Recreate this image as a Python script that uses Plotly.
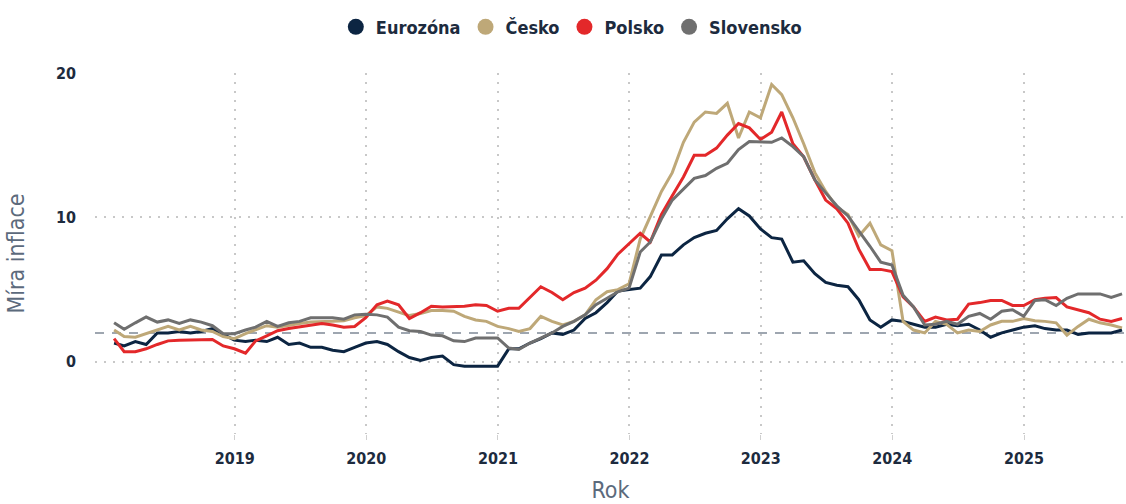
import pandas as pd
import plotly.graph_objects as go

# Monthly observations, Jan 2018 .. Sep 2025 (plotted at month end)
months = pd.date_range("2018-01-01", "2025-09-01", freq="MS") + pd.offsets.MonthEnd(0)

eurozona = [
    1.3, 1.1, 1.4, 1.2, 2.0, 2.0, 2.1, 2.0, 2.1, 2.3, 1.9, 1.5,
    1.4, 1.5, 1.4, 1.7, 1.2, 1.3, 1.0, 1.0, 0.8, 0.7, 1.0, 1.3,
    1.4, 1.2, 0.7, 0.3, 0.1, 0.3, 0.4, -0.2, -0.3, -0.3, -0.3, -0.3,
    0.9, 0.9, 1.3, 1.6, 2.0, 1.9, 2.2, 3.0, 3.4, 4.1, 4.9, 5.0,
    5.1, 5.9, 7.4, 7.4, 8.1, 8.6, 8.9, 9.1, 9.9, 10.6, 10.1, 9.2,
    8.6, 8.5, 6.9, 7.0, 6.1, 5.5, 5.3, 5.2, 4.3, 2.9, 2.4, 2.9,
    2.8, 2.6, 2.4, 2.4, 2.6, 2.5, 2.6, 2.2, 1.7, 2.0, 2.2, 2.4,
    2.5, 2.3, 2.2, 2.2, 1.9, 2.0, 2.0, 2.0, 2.2,
]
cesko = [
    2.2, 1.75, 1.7, 1.95, 2.2, 2.45, 2.2, 2.45, 2.2, 2.1, 1.75, 1.6,
    1.95, 2.2, 2.5, 2.4, 2.55, 2.65, 2.75, 2.75, 2.8, 2.85, 3.05, 3.2,
    3.8, 3.7, 3.45, 3.2, 3.35, 3.55, 3.55, 3.5, 3.15, 2.9, 2.8, 2.45,
    2.3, 2.1, 2.3, 3.15, 2.8, 2.55, 2.8, 3.25, 4.3, 4.85, 5.0, 5.4,
    8.5, 10.1, 11.8, 13.1, 15.2, 16.6, 17.3, 17.2, 17.9, 15.5, 17.3, 16.9,
    19.2, 18.5, 16.9, 15.1, 13.1, 11.8, 10.7, 10.2, 8.7, 9.6, 8.1, 7.7,
    2.8, 2.2, 2.0, 2.8, 2.6, 2.0, 2.2, 2.1, 2.55, 2.8, 2.8, 3.0,
    2.85, 2.8, 2.7, 1.85, 2.45, 2.95, 2.7, 2.55, 2.35,
]
polsko = [
    1.6, 0.7, 0.7, 0.9, 1.2, 1.45, 1.5, 1.5, 1.55, 1.55, 1.1, 0.9,
    0.6, 1.45, 1.8, 2.15, 2.3, 2.4, 2.55, 2.65, 2.55, 2.4, 2.45, 3.05,
    3.95, 4.2, 3.95, 3.0, 3.4, 3.85, 3.8, 3.8, 3.85, 3.95, 3.9, 3.5,
    3.7, 3.7, 4.45, 5.2, 4.8, 4.3, 4.8, 5.1, 5.65, 6.45, 7.45, 8.2,
    8.9, 8.3, 10.2, 11.5, 12.8, 14.3, 14.3, 14.8, 15.7, 16.5, 16.2, 15.4,
    15.9, 17.3, 15.1, 14.2, 12.6, 11.2, 10.6, 9.6, 7.8, 6.4, 6.4, 6.25,
    4.5, 3.8, 2.8, 3.1, 2.9, 2.95, 4.0, 4.1, 4.25, 4.25, 3.9, 3.9,
    4.3, 4.4, 4.45, 3.8, 3.6, 3.4, 2.95, 2.8, 3.0,
]
slovensko = [
    2.7, 2.25, 2.7, 3.1, 2.75, 2.9, 2.65, 2.9, 2.75, 2.5, 1.95, 1.95,
    2.2, 2.4, 2.8, 2.45, 2.7, 2.8, 3.05, 3.05, 3.05, 2.95, 3.25, 3.3,
    3.25, 3.1, 2.4, 2.15, 2.1, 1.85, 1.8, 1.45, 1.4, 1.65, 1.65, 1.65,
    0.95, 0.85, 1.3, 1.65, 2.0, 2.45, 2.8, 3.25, 3.95, 4.4, 4.85, 5.1,
    7.6, 8.3, 9.9, 11.2, 12.0, 12.7, 12.9, 13.4, 13.75, 14.7, 15.25, 15.2,
    15.2, 15.5, 14.9, 14.2, 12.6, 11.7, 10.8, 10.1, 9.1, 8.0, 6.9, 6.7,
    4.6, 3.8, 2.55, 2.6, 2.8, 2.6, 3.15, 3.35, 2.95, 3.5, 3.6, 3.15,
    4.25, 4.3, 3.9, 4.4, 4.7, 4.7, 4.7, 4.45, 4.7,
]

series_names = ["Eurozóna", "Česko", "Polsko", "Slovensko"]
series_values = [eurozona, cesko, polsko, slovensko]
series_colors = ["#0c2542", "#bea878", "#e3282a", "#6f6f6f"]
target = 2.0
year_ticks = ["2019", "2020", "2021", "2022", "2023", "2024", "2025"]

FONT = "DejaVu Sans Condensed, Roboto, sans-serif"
NAVY_TXT = "#1d2b3e"
TITLE_TXT = "#5c6a7c"
GRID = "#c8c8c8"

fig = go.Figure()
for name, vals, col in zip(series_names, series_values, series_colors):
    fig.add_trace(go.Scatter(
        x=months, y=vals, mode="lines", name=name,
        line=dict(color=col, width=3), showlegend=False,
    ))
# legend entries drawn as dots
for name, col in zip(series_names, series_colors):
    fig.add_trace(go.Scatter(
        x=[None], y=[None], mode="markers", name=name,
        marker=dict(color=col, size=16), showlegend=True,
    ))

fig.add_hline(y=target, line=dict(color="#9ea6b0", width=2, dash="9px,8px"), layer="below")

fig.update_layout(
    width=1126, height=504,
    margin=dict(l=95, r=0, t=73, b=70),
    paper_bgcolor="white", plot_bgcolor="white",
    font=dict(family=FONT, color=NAVY_TXT),
    legend=dict(
        orientation="h", x=0.462, xanchor="center",
        y=1.127, yanchor="middle",
        font=dict(family=FONT, size=18, color=NAVY_TXT, weight="bold"),
        itemwidth=30, traceorder="normal",
    ),
    xaxis=dict(
        type="date", range=["2017-12-09", "2025-10-11"],
        tickvals=[y + "-01-01" for y in year_ticks], ticktext=year_ticks,
        showgrid=True, gridcolor=GRID, griddash="2px,7px", gridwidth=1.5,
        ticks="outside", ticklen=5, tickcolor="#d0d0d0", tickwidth=1,
        ticklabelstandoff=5,
        tickfont=dict(family=FONT, size=16, color=NAVY_TXT, weight="bold"),
        showline=False, zeroline=False, automargin=False,
        title=dict(text="Rok", font=dict(family=FONT, size=23, color=TITLE_TXT), standoff=14),
    ),
    yaxis=dict(
        range=[-5, 20], tickvals=[0, 10, 20],
        showgrid=True, gridcolor=GRID, griddash="2px,7px", gridwidth=1.5,
        ticks="", ticklabelstandoff=18,
        tickfont=dict(family=FONT, size=16, color=NAVY_TXT, weight="bold"),
        showline=False, zeroline=False, automargin=False,
        title=dict(text="Míra inflace", font=dict(family=FONT, size=23, color=TITLE_TXT), standoff=24),
    ),
)

fig.write_html(
    "out.html",
    config={"displayModeBar": False},
    post_script="document.body.style.margin='0px';",
)
